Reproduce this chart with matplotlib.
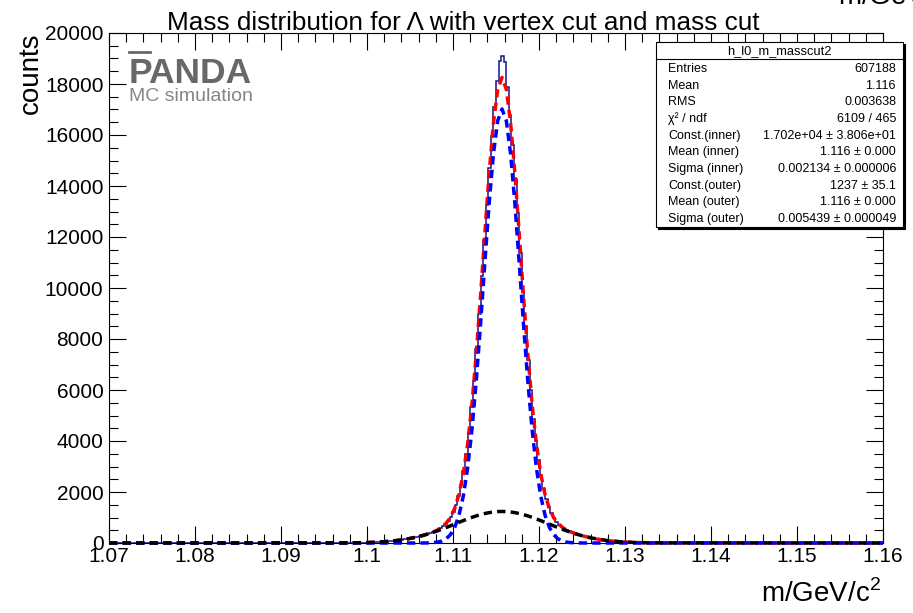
import numpy as np
import matplotlib.pyplot as plt
from matplotlib.patches import Rectangle
from matplotlib.lines import Line2D
from matplotlib.ticker import MultipleLocator, FuncFormatter

plt.rcParams['font.family'] = ['Liberation Sans', 'DejaVu Sans']
plt.rcParams['mathtext.fontset'] = 'custom'
plt.rcParams['mathtext.rm'] = 'Liberation Sans'

# histogram: 300 bins of 0.0003 over 1.07-1.16, counts
# only bins 102..202 are visibly above zero
bin_width = 0.0003
first_bin = 102
hist_counts = [
    30, 34, 39, 45, 51, 58, 67, 76, 86, 98,
    111, 124, 140, 157, 175, 195, 217, 240, 265, 292,
    322, 353, 388, 427, 471, 521, 582, 657, 750, 872,
    1028, 1231, 1497, 1838, 2272, 2818, 3493, 4306, 5320, 6372,
    7614, 8972, 10480, 11881, 13250, 14705, 15950, 17100, 18100, 18900,
    19100,
    18850, 17900, 16800, 15600, 14262, 12950, 11390, 9850, 8509, 7186,
    5987, 4880, 4019, 3253, 2623, 2116, 1716, 1402, 1157, 971,
    827, 717, 630, 560, 504, 456, 414, 377, 342, 311,
    282, 256, 232, 209, 188, 169, 151, 135, 120, 106,
    94, 83, 73, 64, 56, 48, 42, 37, 32, 28,
]

# fit curves sampled every 0.0005 from 1.0977 to 1.1337
fit_mass = np.round(np.arange(1.0977, 1.13375, 0.0005), 4)
inner_half = [17020, 16559, 15250, 13295, 10971, 8569, 6336, 4435, 2938, 1842,
              1094, 614, 327, 165, 78, 35, 15, 6, 2, 1,
              0, 0, 0, 0, 0, 0, 0, 0, 0, 0, 0, 0, 0, 0, 0, 0, 0]
outer_half = [1237, 1232, 1216, 1191, 1156, 1113, 1062, 1006, 944, 878,
              811, 742, 673, 606, 540, 478, 419, 365, 315, 269,
              228, 192, 160, 132, 109, 88, 71, 57, 45, 35,
              28, 21, 16, 12, 9, 7, 5]
inner_fit = inner_half[:0:-1] + inner_half
outer_fit = outer_half[:0:-1] + outer_half

stat_names = ['Entries', 'Mean', 'RMS', 'χ² / ndf', 'Const.(inner)', 'Mean (inner)',
              'Sigma (inner)', 'Const.(outer)', 'Mean (outer)', 'Sigma (outer)']
stat_values = ['607188', '1.116', '0.003638', '6109 / 465', '1.702e+04 ± 3.806e+01',
               '1.116 ± 0.000', '0.002134 ± 0.000006', '1237 ± 35.1',
               '1.116 ± 0.000', '0.005439 ± 0.000049']

W, H = 913, 613
fig = plt.figure(figsize=(W / 100, H / 100), dpi=100)
ax = fig.add_axes([109 / W, 70 / H, 774 / W, 510 / H])

edges = np.linspace(1.07, 1.16, 301)
counts = np.zeros(300)
counts[first_bin:first_bin + len(hist_counts)] = hist_counts
ax.stairs(counts, edges, color='#14148c', lw=1.1, zorder=2)

# full fit range 1.07 - 1.16, flat at zero outside the sampled part
xs = np.concatenate([[1.07], fit_mass, [1.16]])
inner = np.concatenate([[0], inner_fit, [0]])
outer = np.concatenate([[0], outer_fit, [0]])
dash = (2.4, 1.5)
ax.plot(xs, inner + outer, color='red', lw=2.5, dashes=dash, clip_on=False, zorder=3)
ax.plot(xs, inner, color='blue', lw=2.5, dashes=dash, clip_on=False, zorder=4)
ax.plot(xs, outer, color='black', lw=2.5, dashes=dash, clip_on=False, zorder=5)

ax.set_xlim(1.07, 1.16)
ax.set_ylim(0, 20000)
ax.xaxis.set_major_locator(MultipleLocator(0.01))
ax.xaxis.set_minor_locator(MultipleLocator(0.002))
ax.yaxis.set_major_locator(MultipleLocator(2000))
ax.yaxis.set_minor_locator(MultipleLocator(500))
ax.xaxis.set_major_formatter(FuncFormatter(lambda v, p: '%g' % round(v, 3)))
ax.yaxis.set_major_formatter(FuncFormatter(lambda v, p: '%d' % v))
ax.tick_params(which='both', direction='in', top=True, right=True, width=0.8, labelsize=15)
ax.tick_params(which='major', length=12)
ax.tick_params(which='minor', length=6.5)
ax.tick_params(axis='x', pad=3)
ax.tick_params(axis='y', pad=4)
for s in ax.spines.values():
    s.set_linewidth(0.8)

ax.set_ylabel('counts', fontsize=20, loc='top')
ax.yaxis.set_label_coords(-0.084, 1.0)
ax.set_xlabel('m/GeV/c$^2$', fontsize=20, loc='right')
ax.xaxis.set_label_coords(0.997, -0.072)

fig.text(0.507, 1 - 30 / H, 'Mass distribution for Λ with vertex cut and mass cut',
         fontsize=18.8, ha='center', va='baseline')
# cut-off label at the very top right of the screenshot
fig.text(838 / W, 1 - 5 / H, 'm/GeV/c$^2$', fontsize=20, ha='left', va='baseline')

# PANDA logo
fig.text(129 / W, 1 - 83 / H, 'PANDA', fontsize=25.5, fontweight='bold',
         color='#686868', ha='left', va='baseline')
fig.add_artist(Line2D([129 / W, 150 / W], [1 - 52 / H, 1 - 52 / H],
                      color='#686868', lw=2.0))
fig.text(129 / W, 1 - 101 / H, 'MC simulation', fontsize=14,
         color='#858585', ha='left', va='baseline')

# stats box
bx0, bx1, by0, by1 = 656, 903, 42, 227
fig.add_artist(Rectangle((bx0 / W + 2 / W, 1 - by1 / H - 2 / H), (bx1 - bx0) / W, (by1 - by0) / H,
                         transform=fig.transFigure, facecolor='black', edgecolor='black', lw=0.8))
fig.add_artist(Rectangle((bx0 / W, 1 - by1 / H), (bx1 - bx0) / W, (by1 - by0) / H,
                         transform=fig.transFigure, facecolor='white', edgecolor='black', lw=0.8))
fig.add_artist(Line2D([bx0 / W, bx1 / W], [1 - 59 / H, 1 - 59 / H], color='black', lw=0.8))
fig.text((bx0 + bx1) / 2 / W, 1 - 51 / H, 'h_l0_m_masscut2', fontsize=9.3,
         ha='center', va='center')
for i, (name, val) in enumerate(zip(stat_names, stat_values)):
    y = 1 - (69 + i * 16.67) / H
    fig.text(668 / W, y, name, fontsize=9, ha='left', va='center')
    fig.text(896 / W, y, val, fontsize=9, ha='right', va='center')

fig.savefig('out.png', dpi=100)
